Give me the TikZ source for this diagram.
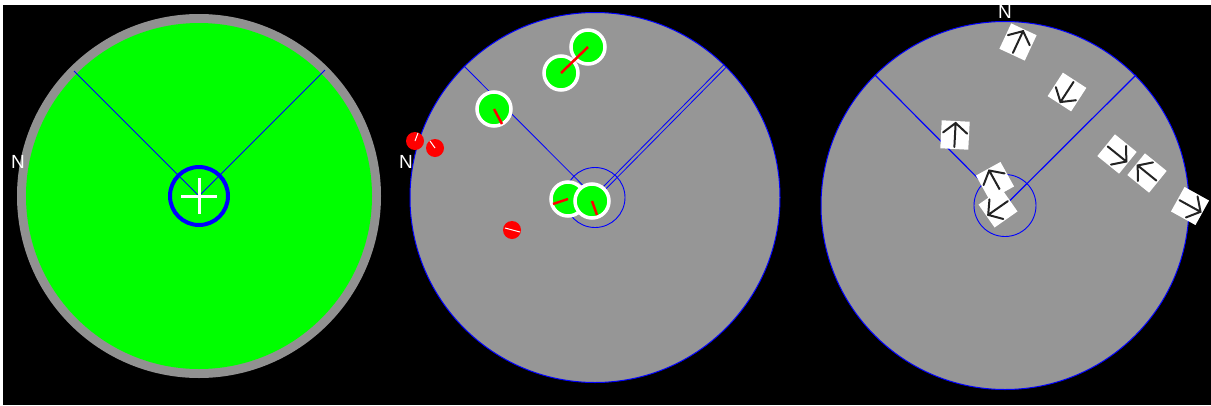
\documentclass[tikz,border=0pt]{standalone}
\usepackage{fontspec}
\setsansfont{Liberation Sans}
\usetikzlibrary{calc}
\definecolor{disc}{RGB}{150,150,150}
\definecolor{ringgray}{RGB}{145,145,145}
\definecolor{lime}{RGB}{0,255,0}
\definecolor{ink}{RGB}{35,35,35}
\tikzset{
  lbl/.style={text=white, font=\sffamily\fontsize{19}{19}\selectfont, inner sep=0pt},
  ray/.style={draw=blue, line width=0.8pt},
  puck/.style={circle, fill=lime, draw=white, line width=3.5pt, minimum size=34pt, inner sep=0pt},
  reddot/.style={circle, fill=red, minimum size=18pt, inner sep=0pt},
  tile/.style={fill=white, minimum size=28pt, inner sep=0pt},
  heading/.style={draw=red, line width=2.5pt},
  tick/.style={draw=white, line width=1pt},
  glyph/.style={draw=ink, line width=2pt, line cap=round},
}
\newcommand\arrowglyph[2]{%
  \draw[glyph, shift={(#1)}, rotate=#2] (-12,0) -- (12,0) (2,12) -- (12,0) -- (2,-12);}
\begin{document}
\begin{tikzpicture}[x=1pt, y=-1pt]
\useasboundingbox (0,0) rectangle (1211,405);
\fill[white] (0,0) rectangle (1211,405);
\fill[black] (3,5) rectangle (1211,405);

% ---------- panel 1 ----------
\coordinate (c1) at (199,196);
\fill[ringgray] (c1) circle[radius=182];
\fill[lime] (c1) circle[radius=173];
\coordinate (a1) at (74,71);
\coordinate (b1) at (325,70);
\draw[ray] (a1) -- (c1) -- (b1);
\draw[blue, line width=4pt] (c1) circle[radius=29];
\draw[white, line width=3pt] ($(c1)+(-18,0)$) -- ($(c1)+(18,0)$);
\draw[white, line width=3pt] ($(c1)+(0,-18)$) -- ($(c1)+(0,18)$);
\node[lbl] (n1) at (18,162) {N};

% ---------- panel 2 ----------
\coordinate (c2) at (595,197.5);
\fill[disc] (c2) circle[radius=185];
\draw[blue, line width=1pt] (c2) circle[radius=185];
\coordinate (a2) at (464,66);
\coordinate (b2) at (725,66);
\draw[ray] (a2) -- (c2);
\draw[ray] ($(b2)+(-1.2,-1.2)$) -- ($(c2)+(-1.2,-1.2)$);
\draw[ray] ($(b2)+(1.2,1.2)$) -- ($(c2)+(1.2,1.2)$);
\draw[blue, line width=0.9pt] (c2) circle[radius=30];
\node[lbl] (n2) at (406,162) {N};

\node[reddot] (r1) at (415,141) {};
\node[reddot] (r2) at (435,148) {};
\node[reddot] (r3) at (512,230) {};
\draw[tick] (r1.center) -- ++(3,-8);
\draw[tick] (r2.center) -- ++(-5,-7);
\draw[tick] ($(r3.center)+(-7,-2)$) -- ($(r3.center)+(8,2)$);

\node[puck] (pA) at (588,47) {};
\node[puck] (pB) at (561,73) {};
\draw[heading] (pB.center) -- (pA.center);
\node[puck] (pC) at (494,109) {};
\draw[heading] (pC.center) -- ++(8,15);
\node[puck] (pD) at (568,199) {};
\draw[heading] (pD.center) -- ++(-15,5);
\node[puck] (pE) at (592,201) {};
\draw[heading] (pE.center) -- ++(5,14);

% ---------- panel 3 ----------
\coordinate (c3) at (1005,205.5);
\fill[disc] (c3) circle[radius=184];
\draw[blue, line width=1pt] (c3) circle[radius=184];
\coordinate (a3) at (875,75);
\coordinate (b3) at (1136,75);
\draw[ray, line width=1.2pt] (a3) -- (c3) -- (b3);
\draw[blue, line width=0.9pt] (c3) circle[radius=31];
\node[lbl] (n3) at (1005,12) {N};

\node[tile, rotate=-25] (t1) at (1018,42) {};
\arrowglyph{1018,42}{65}
\node[tile, rotate=57] (t2) at (1067,92) {};
\arrowglyph{1067,92}{237}
\node[tile, rotate=-3] (t3) at (955,135) {};
\arrowglyph{955,135}{87}
\node[tile, rotate=29] (t4) at (995,181) {};
\arrowglyph{995,181}{119}
\node[tile, rotate=35] (t5) at (998,208) {};
\arrowglyph{998,208}{215}
\node[tile, rotate=51] (t6) at (1117,154) {};
\arrowglyph{1117,154}{-39}
\node[tile, rotate=51] (t7) at (1147,173) {};
\arrowglyph{1147,173}{141}
\node[tile, rotate=61] (t8) at (1190,206) {};
\arrowglyph{1190,206}{-29}
\end{tikzpicture}
\end{document}
